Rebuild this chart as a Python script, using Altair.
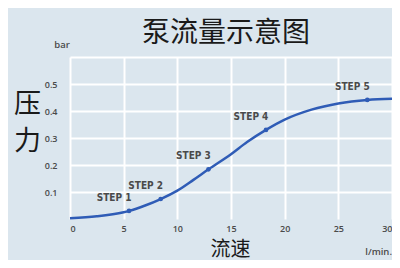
import altair as alt
import pandas as pd

# Curve (flow l/min, pressure bar)
curve_x = [0, 2.5, 5, 5.5, 7, 8.45, 10, 11.5, 12.9, 15, 16.5, 18.26, 20, 22.5, 25, 27.7, 30]
curve_y = [0.003, 0.01, 0.025, 0.03, 0.05, 0.074, 0.105, 0.145, 0.184, 0.24, 0.285, 0.33, 0.368, 0.405, 0.428, 0.441, 0.445]

step_names = ["STEP 1", "STEP 2", "STEP 3", "STEP 4", "STEP 5"]
step_x = [5.5, 8.45, 12.9, 18.26, 27.7]
step_y = [0.03, 0.074, 0.184, 0.33, 0.441]

x_ticks = [0, 5, 10, 15, 20, 25, 30]
y_grid = [0.1, 0.2, 0.3, 0.4, 0.5, 0.6]

title_text = "泵流量示意图"
x_title = "流速"
y_title = ["压", "力"]
y_unit = "bar"
x_unit = "l/min."

BG = "#dbe6ee"
BLUE = "#2f5cb6"
LABEL = "#4a4a4a"
CJK = "Noto Sans CJK SC"

curve = pd.DataFrame({"x": curve_x, "y": curve_y})
steps = pd.DataFrame({"x": step_x, "y": step_y, "name": step_names})

xscale = alt.Scale(domain=[0, 30], nice=False, zero=False)
yscale = alt.Scale(domain=[0, 0.6], nice=False)

xaxis = alt.Axis(values=x_ticks, grid=True, gridColor="white", gridWidth=2, gridOpacity=1,
                 domain=False, ticks=False, labelPadding=5, labelFontSize=9, labelOverlap=False,
                 labelFont="Open Sans", labelFontWeight=600, labelColor=LABEL,
                 title=x_title, titleFont=CJK, titleFontSize=20, titleFontWeight="normal",
                 titleColor="#1a1a1a", titleY=40, titleBaseline="bottom", titleX=160)
yaxis = alt.Axis(values=y_grid, grid=True, gridColor="white", gridWidth=2, gridOpacity=1,
                 domain=False, ticks=False, labelPadding=13, labelFontSize=9, labelOverlap=False,
                 labelFont="Open Sans", labelFontWeight=600, labelColor=LABEL,
                 labelExpr="datum.value > 0.55 ? '' : datum.label", format=".1f",
                 title=y_title, titleFont=CJK, titleFontSize=27, titleFontWeight="normal",
                 titleColor="#1a1a1a", titleAngle=0, titleAlign="center", titleBaseline="top",
                 titleX=-43, titleY=34, titleLineHeight=37)

X = alt.X("x:Q", scale=xscale, axis=xaxis)
Y = alt.Y("y:Q", scale=yscale, axis=yaxis)

line = alt.Chart(curve).mark_line(color=BLUE, strokeWidth=2.5, interpolate="monotone").encode(
    x=X, y=Y)

pts = alt.Chart(steps).mark_point(filled=True, color=BLUE, size=22, opacity=1).encode(
    x=X, y=Y)

lbls = alt.Chart(steps).mark_text(dx=-15, dy=-13, font="DejaVu Sans Condensed", fontSize=10,
                                  fontWeight="bold", color=LABEL).encode(
    x=X, y=Y, text="name:N")

bar_txt = alt.Chart(pd.DataFrame({"t": [y_unit]})).mark_text(
    font="Open Sans", fontSize=9.5, fontWeight=600, color=LABEL).encode(
    x=alt.value(-8), y=alt.value(-12), text="t:N")
lmin_txt = alt.Chart(pd.DataFrame({"t": [x_unit]})).mark_text(
    font="Open Sans", fontSize=9.5, fontWeight=600, color=LABEL, align="right").encode(
    x=alt.value(322), y=alt.value(195), text="t:N")

chart = alt.layer(line, pts, lbls, bar_txt, lmin_txt).properties(
    width=322, height=162,
    autosize=alt.AutoSizeParams(type="none"),
    padding={"left": 62, "top": 49, "right": 0, "bottom": 41},
    background=BG,
    title=alt.TitleParams(title_text, font=CJK, fontSize=28, fontWeight="normal",
                          color="#1a1a1a", offset=10, dx=-5, dy=18, anchor="middle", frame="group"),
).configure_view(stroke=None, fill=None).configure_axis(labelOverlap=False)

chart.save("out.html", embed_options={"renderer": "svg", "actions": False})
